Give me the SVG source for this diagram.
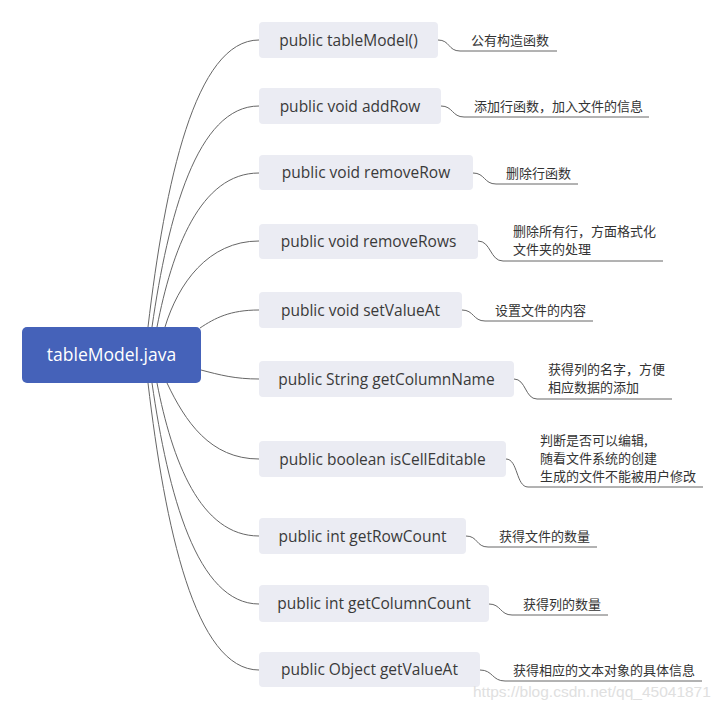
<svg xmlns="http://www.w3.org/2000/svg" width="723" height="708" viewBox="0 0 723 708">
<style>
.bg{fill:#ffffff}
.root{fill:#4562B9}
.rt{font-family:"Open Sans","Liberation Sans",sans-serif;font-size:17.5px;fill:#ffffff;text-anchor:middle}
.box{fill:#EBECF3}
.nt{font-family:"Open Sans","Liberation Sans",sans-serif;font-size:15.5px;fill:#3a3a3a;text-anchor:middle}
.note{font-family:"Noto Sans CJK SC",sans-serif;font-size:13px;fill:#333333}
.c{fill:none;stroke:#666666;stroke-width:1}
.wm{font-family:"Liberation Sans",sans-serif;font-size:15.5px;fill:#e0e0e0}
</style>
<rect class="bg" width="723" height="708"/>
<g id="connectors">
<path class="c" d="M148,327 C165,183 195,40 259,40"/>
<path class="c" d="M152,327 C168,216 197,106 259,106"/>
<path class="c" d="M157,327 C172,250 200,173 259,173"/>
<path class="c" d="M165,327 C178,284 208,241 259,241"/>
<path class="c" d="M200,328 C215,318 230,310 259,310"/>
<path class="c" d="M201,370 C220,375 235,379 259,379"/>
<path class="c" d="M167,383 C185,421 210,459 259,459"/>
<path class="c" d="M157,383 C172,460 200,536 259,536"/>
<path class="c" d="M152,383 C168,494 197,604 259,604"/>
<path class="c" d="M148,383 C165,527 195,670 259,670"/>
<path class="c" d="M438,40 C450,40 448,51 460,51 L557,51"/>
<path class="c" d="M441,106 C453,106 452,117 464,117 L649,117"/>
<path class="c" d="M473,173 C485,173 484,184 496,184 L578,184"/>
<path class="c" d="M478,241 C491,241 490,261 503,261 L663,261"/>
<path class="c" d="M462,310 C474,310 473,321 485,321 L593,321"/>
<path class="c" d="M514,379 C526,379 525,399 537,399 L672,399"/>
<path class="c" d="M506,459 C518,459 516,487 528,487 L703,487"/>
<path class="c" d="M466,536 C478,536 476,547 488,547 L597,547"/>
<path class="c" d="M489,604 C501,604 500,615 512,615 L608,615"/>
<path class="c" d="M480,670 C493,670 492,681 505,681 L702,681"/>
</g>
<g id="root">
<rect class="root" x="22" y="327" width="179" height="56" rx="5"/>
<text class="rt" x="111.5" y="361">tableModel.java</text>
</g>
<g id="n1"><rect class="box" x="259" y="22" width="179" height="36" rx="4"/><text class="nt" x="348.5" y="45.5">public tableModel()</text></g>
<g id="n2"><rect class="box" x="259" y="88" width="182" height="36" rx="4"/><text class="nt" x="350" y="111.5">public void  addRow</text></g>
<g id="n3"><rect class="box" x="259" y="155" width="214" height="35" rx="4"/><text class="nt" x="366" y="178">public void removeRow</text></g>
<g id="n4"><rect class="box" x="259" y="224" width="219" height="35" rx="4"/><text class="nt" x="368.5" y="247">public void removeRows</text></g>
<g id="n5"><rect class="box" x="259" y="292" width="203" height="36" rx="4"/><text class="nt" x="360.5" y="315.5">public void setValueAt</text></g>
<g id="n6"><rect class="box" x="259" y="361" width="255" height="36" rx="4"/><text class="nt" x="386.5" y="384.5">public String getColumnName</text></g>
<g id="n7"><rect class="box" x="259" y="441" width="247" height="36" rx="4"/><text class="nt" x="382.5" y="464.5">public boolean isCellEditable</text></g>
<g id="n8"><rect class="box" x="259" y="518" width="207" height="36" rx="4"/><text class="nt" x="362.5" y="541.5">public int getRowCount</text></g>
<g id="n9"><rect class="box" x="259" y="585" width="230" height="37" rx="4"/><text class="nt" x="374" y="609">public int getColumnCount</text></g>
<g id="n10"><rect class="box" x="259" y="652" width="221" height="35" rx="4"/><text class="nt" x="369.5" y="675">public Object getValueAt</text></g>
<g id="notes">
<text class="note" x="471" y="45">公有构造函数</text>
<text class="note" x="474" y="111">添加行函数，加入文件的信息</text>
<text class="note" x="506" y="178">删除行函数</text>
<text class="note" x="513" y="236">删除所有行，方面格式化</text>
<text class="note" x="513" y="254">文件夹的处理</text>
<text class="note" x="495" y="315">设置文件的内容</text>
<text class="note" x="548" y="374">获得列的名字，方便</text>
<text class="note" x="548" y="392">相应数据的添加</text>
<text class="note" x="540" y="445">判断是否可以编辑,</text>
<text class="note" x="540" y="463">随看文件系统的创建</text>
<text class="note" x="540" y="481">生成的文件不能被用户修改</text>
<text class="note" x="499" y="541">获得文件的数量</text>
<text class="note" x="523" y="609">获得列的数量</text>
<text class="note" x="513" y="675">获得相应的文本对象的具体信息</text>
</g>
<text class="wm" x="473" y="697">https://blog.csdn.net/qq_45041871</text>
</svg>
